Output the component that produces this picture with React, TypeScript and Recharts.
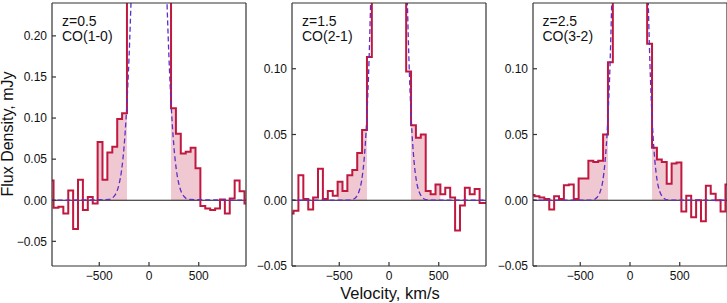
import React from 'react';
import { Area, ComposedChart, Line, ReferenceLine, XAxis, YAxis } from 'recharts';

// bin centres, km/s (bin width ~49 km/s)
const velocity = [
  -984, -935, -886, -836, -787, -738, -689, -640, -590, -541, -492, -443, -394, -344,
  -295, -246, -197, -148, -98, -49, 0, 49, 98, 148, 197, 246, 295, 344, 394, 443, 492,
  541, 590, 640, 689, 738, 787, 836, 886, 935, 984,
];

const fluxCO10 = [
  0.024, -0.009, -0.008, -0.016, 0.012, -0.035, 0.025, -0.012, 0.004, -0.004, 0.071,
  0.025, 0.058, 0.065, 0.099, 0.106, 0.36, 0.62, 0.85, 0.97, 1.0, 0.96, 0.83, 0.6, 0.34,
  0.112, 0.081, 0.057, 0.059, 0.064, 0.039, -0.007, -0.01, -0.012, -0.01, 0.001, -0.016,
  0.002, 0.024, 0.011, -0.004,
];

const fluxCO21 = [
  -0.01, -0.008, 0.019, 0.001, -0.007, 0.002, 0.024, 0.001, 0.007, 0.0035, 0.014, 0.007,
  0.019, 0.023, 0.036, 0.0535, 0.109, 0.42, 0.7, 0.92, 1.0, 0.9, 0.68, 0.4, 0.098, 0.057,
  0.0475, 0.05, 0.007, 0.0045, 0.012, 0.0045, 0.0096, 0.002, -0.023, -0.004, 0.0096,
  0.0045, 0.0086, -0.002, -0.002,
];

const fluxCO32 = [
  0.004, 0.003, 0.002, 0.001, -0.007, 0.003, 0.001, 0.0115, 0.012, 0.001, 0.0165, 0.0165,
  0.03, 0.029, 0.03, 0.05, 0.105, 0.4, 0.68, 0.9, 1.0, 0.92, 0.7, 0.42, 0.119, 0.04, 0.031,
  0.029, 0.0125, 0.028, 0.0288, -0.0086, 0.0035, -0.013, 0.0, -0.016, 0.011, 0.005, 0.0,
  -0.0086, 0.012,
];

// gaussian model of the line core (dashed)
const modelVelocity = [
  -1000, -400, -375, -350, -325, -300, -275, -250, -225, -200, -175, -150, -125, -100, -75,
  -50, -25, 0, 25, 50, 75, 100, 125, 150, 175, 200, 225, 250, 275, 300, 325, 350, 375, 400,
  1000,
];

const modelCO10 = [
  0, 0.001, 0.002, 0.005, 0.01, 0.02, 0.037, 0.066, 0.111, 0.176, 0.264, 0.376, 0.507,
  0.647, 0.783, 0.897, 0.973, 1.0, 0.973, 0.897, 0.783, 0.647, 0.507, 0.376, 0.264, 0.176,
  0.111, 0.066, 0.037, 0.02, 0.01, 0.005, 0.002, 0.001, 0,
];

const modelCO21 = [
  0, 0.0001, 0.0004, 0.0011, 0.003, 0.007, 0.015, 0.031, 0.06, 0.108, 0.183, 0.287, 0.42,
  0.574, 0.732, 0.87, 0.966, 1.0, 0.966, 0.87, 0.732, 0.574, 0.42, 0.287, 0.183, 0.108,
  0.06, 0.031, 0.015, 0.007, 0.003, 0.0011, 0.0004, 0.0001, 0,
];

const modelCO32 = [
  0, 0.0001, 0.0003, 0.001, 0.0027, 0.0065, 0.014, 0.03, 0.058, 0.105, 0.18, 0.284, 0.417,
  0.572, 0.73, 0.869, 0.966, 1.0, 0.966, 0.869, 0.73, 0.572, 0.417, 0.284, 0.18, 0.105,
  0.058, 0.03, 0.014, 0.0065, 0.0027, 0.001, 0.0003, 0.0001, 0,
];

// wing bins that are shaded
const wingRanges = [
  [-492, -246],
  [246, 492],
];

const xTicks = [-500, 0, 500];
const yTicksCO10 = [-0.05, 0, 0.05, 0.1, 0.15, 0.2];
const yTicksHigh = [-0.05, 0, 0.05, 0.1];
const redshifts = ['z=0.5', 'z=1.5', 'z=2.5'];
const transitions = ['CO(1-0)', 'CO(2-1)', 'CO(3-2)'];

const RED = '#c0183f';
const MODEL = '#5b2fc9';
const FRAME = '#333333';
const FONT = '"Liberation Sans", Arial, Helvetica, sans-serif';

const X_DOMAIN: [number, number] = [-975, 975];
const PLOT_W = 194;
const AXIS_W = 45;

const panels = [
  { left: 52, flux: fluxCO10, model: modelCO10, yDomain: [-0.08, 0.24], yTicks: yTicksCO10 },
  { left: 292, flux: fluxCO21, model: modelCO21, yDomain: [-0.05, 0.15], yTicks: yTicksHigh },
  { left: 532.5, flux: fluxCO32, model: modelCO32, yDomain: [-0.05, 0.15], yTicks: yTicksHigh },
];

function fmtY(v: number) {
  return (v < 0 ? '\u2212' : '') + Math.abs(v).toFixed(2);
}

function fmtX(v: number) {
  return (v < 0 ? '\u2212' : '') + Math.abs(v);
}

function wingData(flux: number[], lo: number, hi: number) {
  const half = (velocity[1] - velocity[0]) / 2;
  const pts = velocity
    .map((v, i) => ({ v, f: flux[i] }))
    .filter((p) => p.v >= lo && p.v <= hi);
  return [
    { v: pts[0].v - half, f: pts[0].f },
    ...pts,
    { v: pts[pts.length - 1].v + half, f: pts[pts.length - 1].f },
  ];
}

function Panel({ idx }: { idx: number }) {
  const p = panels[idx];
  const spectrum = velocity.map((v, i) => ({ v, f: p.flux[i] }));
  const model = modelVelocity.map((v, i) => ({ v, f: p.model[i] }));
  const tickStyle = { fontSize: 12, fill: '#111', fontFamily: FONT };
  return (
    <div style={{ position: 'absolute', left: p.left - AXIS_W, top: 0 }}>
      <ComposedChart
        width={AXIS_W + PLOT_W + 2}
        height={303}
        margin={{ top: 2, right: 1, bottom: 0, left: 0 }}
      >
        <XAxis
          dataKey="v"
          type="number"
          domain={X_DOMAIN}
          allowDataOverflow
          ticks={xTicks}
          tickFormatter={fmtX}
          tick={tickStyle}
          tickSize={-4}
          tickMargin={9}
          height={37}
          stroke={FRAME}
          strokeWidth={1.2}
          tickLine={{ stroke: FRAME }}
        />
        <XAxis
          xAxisId="top"
          orientation="top"
          type="number"
          domain={X_DOMAIN}
          allowDataOverflow
          ticks={xTicks}
          tick={false}
          tickSize={-4}
          height={1}
          stroke={FRAME}
          strokeWidth={1.2}
        />
        <YAxis
          type="number"
          domain={p.yDomain}
          allowDataOverflow
          ticks={p.yTicks}
          tickFormatter={fmtY}
          tick={tickStyle}
          tickSize={-4}
          tickMargin={9}
          width={AXIS_W}
          stroke={FRAME}
          strokeWidth={1.2}
        />
        <YAxis
          yAxisId="right"
          orientation="right"
          type="number"
          domain={p.yDomain}
          allowDataOverflow
          ticks={p.yTicks}
          tick={false}
          tickSize={-4}
          width={1}
          stroke={FRAME}
          strokeWidth={1.2}
        />
        {wingRanges.map(([lo, hi]) => (
          <Area
            key={lo}
            data={wingData(p.flux, lo, hi)}
            dataKey="f"
            type="step"
            baseValue={0}
            stroke="none"
            fill={RED}
            fillOpacity={0.24}
            isAnimationActive={false}
          />
        ))}
        <ReferenceLine y={0} stroke="#1a1a1a" strokeWidth={1.2} />
        <Line
          data={spectrum}
          dataKey="f"
          type="step"
          stroke={RED}
          strokeWidth={2}
          dot={false}
          activeDot={false}
          isAnimationActive={false}
        />
        <Line
          data={model}
          dataKey="f"
          type="monotone"
          stroke={MODEL}
          strokeWidth={1.3}
          strokeDasharray="5 3"
          dot={false}
          activeDot={false}
          isAnimationActive={false}
        />
      </ComposedChart>
    </div>
  );
}

export default function App() {
  return (
    <div
      style={{
        position: 'fixed',
        left: 0,
        top: 0,
        width: 727,
        height: 303,
        background: '#fff',
        overflow: 'hidden',
      }}
    >
      {panels.map((_, i) => (
        <Panel key={i} idx={i} />
      ))}
      <svg
        width={727}
        height={303}
        style={{ position: 'absolute', left: 0, top: 0, pointerEvents: 'none' }}
        fontFamily={FONT}
      >
        {panels.map((p, i) => (
          <g key={i} fontSize={14} fill="#111">
            <text x={p.left + 10} y={26}>
              {redshifts[i]}
            </text>
            <text x={p.left + 10} y={41}>
              {transitions[i]}
            </text>
          </g>
        ))}
        <text
          transform="translate(13,134) rotate(-90)"
          textAnchor="middle"
          fontSize={16}
          fill="#111"
        >
          Flux Density, mJy
        </text>
        <text x={390} y={298.5} textAnchor="middle" fontSize={16.5} fill="#111">
          Velocity, km/s
        </text>
      </svg>
    </div>
  );
}
